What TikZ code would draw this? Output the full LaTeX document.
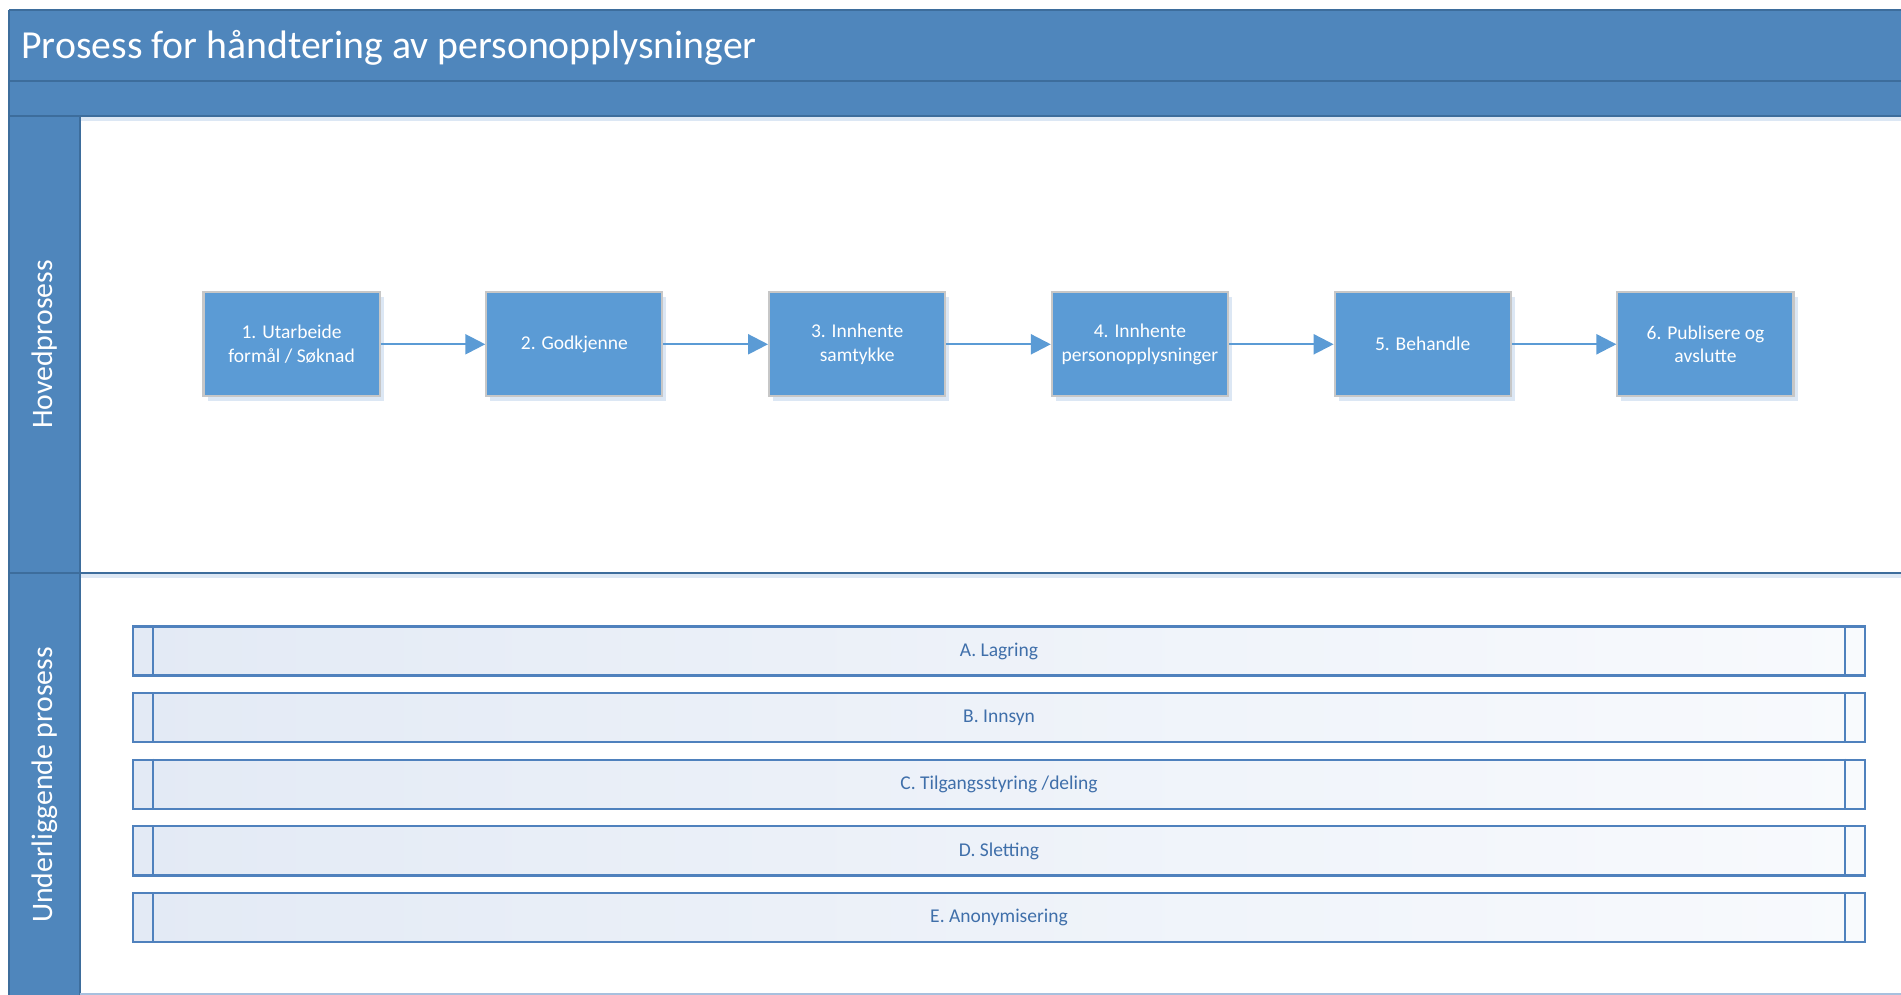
\documentclass[tikz,border=0pt]{standalone}
\usepackage{fontspec}
\setmainfont{Carlito}
\usetikzlibrary{arrows.meta,positioning,shadows}

\definecolor{bandblue}{HTML}{4F86BC}
\definecolor{lineblue}{HTML}{3D6D9C}
\definecolor{stepblue}{HTML}{5B9BD5}
\definecolor{barblue}{HTML}{4F81BD}
\definecolor{bartext}{HTML}{3F6FAA}
\definecolor{shadeblue}{HTML}{DCE7F4}
\definecolor{barleft}{HTML}{E3EAF5}
\definecolor{barright}{HTML}{F8FAFD}

\tikzset{
  stepbox/.style={draw=black!22, line width=0.6pt, fill=stepblue, text=white,
    minimum width=1.76cm, minimum height=1.04cm, align=center, inner xsep=1pt,
    font=\fontsize{5.55}{6.8}\selectfont,
    drop shadow={shadow xshift=0.04cm, shadow yshift=-0.05cm, fill=shadeblue, opacity=1}},
  flow/.style={draw=stepblue, line width=0.65pt, -{Triangle[length=0.2cm,width=0.2cm]}},
  subbar/.style={draw=barblue, line width=0.6pt, left color=barleft, right color=barright,
    minimum width=17.31cm, minimum height=0.49cm, text=bartext,
    font=\fontsize{5.55}{6.8}\selectfont},
  lanetitle/.style={rotate=90, text=white, font=\fontsize{8.45}{10}\selectfont}
}

\begin{document}
\begin{tikzpicture}[x=0.01cm,y=-0.01cm]
  \useasboundingbox (0,0) rectangle (1901,995);
  % Background
  % -- top bands and lane column
  \fill[bandblue] (9,10) rectangle (1901,116);
  \fill[bandblue] (9,116) rectangle (80,995);
  \fill[shadeblue] (80,116) rectangle (1901,121);
  \fill[shadeblue] (80,573) rectangle (1901,578);
  \draw[lineblue, line width=0.5pt] (9,10) -- (1901,10);
  \draw[lineblue, line width=0.5pt] (9,10) -- (9,995);
  \draw[lineblue, line width=0.5pt] (9,81) -- (1901,81);
  \draw[lineblue, line width=0.6pt] (9,116) -- (1901,116);
  \draw[lineblue, line width=0.6pt] (80,116) -- (80,995);
  \draw[lineblue, line width=0.6pt] (9,573) -- (1901,573);
  \draw[barblue!50, line width=0.5pt] (80,994) -- (1901,994);
  % Titles
  \node[anchor=west, text=white, font=\fontsize{11.3}{13}\selectfont] (title) at (9,48)
    {Prosess for håndtering av personopplysninger};
  \node[lanetitle] (main) at (44.5,344.5) {Hovedprosess};
  \node[lanetitle] (sub) at (44.5,785) {Underliggende prosess};
  % Main process steps
  \node[stepbox] (s1) at (291.6,344.3) {1. Utarbeide\\formål / Søknad};
  \node[stepbox, right=1.045cm of s1] (s2) {2. Godkjenne};
  \node[stepbox, right=1.045cm of s2] (s3) {3. Innhente\\samtykke};
  \node[stepbox, right=1.045cm of s3] (s4) {4. Innhente\\personopplysninger};
  \node[stepbox, right=1.045cm of s4] (s5) {5. Behandle};
  \node[stepbox, right=1.045cm of s5] (s6) {6. Publisere og\\avslutte};
  \foreach \a/\b in {s1/s2,s2/s3,s3/s4,s4/s5,s5/s6}
    \draw[flow] (\a) -- (\b);
  % Sub processes
  \node[subbar] (pa) at (999,651) {A. Lagring};
  \node[subbar, below=0.155cm of pa] (pb) {B. Innsyn};
  \node[subbar, below=0.155cm of pb] (pc) {C. Tilgangsstyring /deling};
  \node[subbar, below=0.155cm of pc] (pd) {D. Sletting};
  \node[subbar, below=0.155cm of pd] (pe) {E. Anonymisering};
  \foreach \p in {pa,pb,pc,pd,pe} {
    \draw[barblue, line width=0.6pt] ([xshift=0.21cm]\p.north west) -- ([xshift=0.21cm]\p.south west);
    \draw[barblue, line width=0.6pt] ([xshift=-0.21cm]\p.north east) -- ([xshift=-0.21cm]\p.south east);
  }
\end{tikzpicture}
\end{document}
